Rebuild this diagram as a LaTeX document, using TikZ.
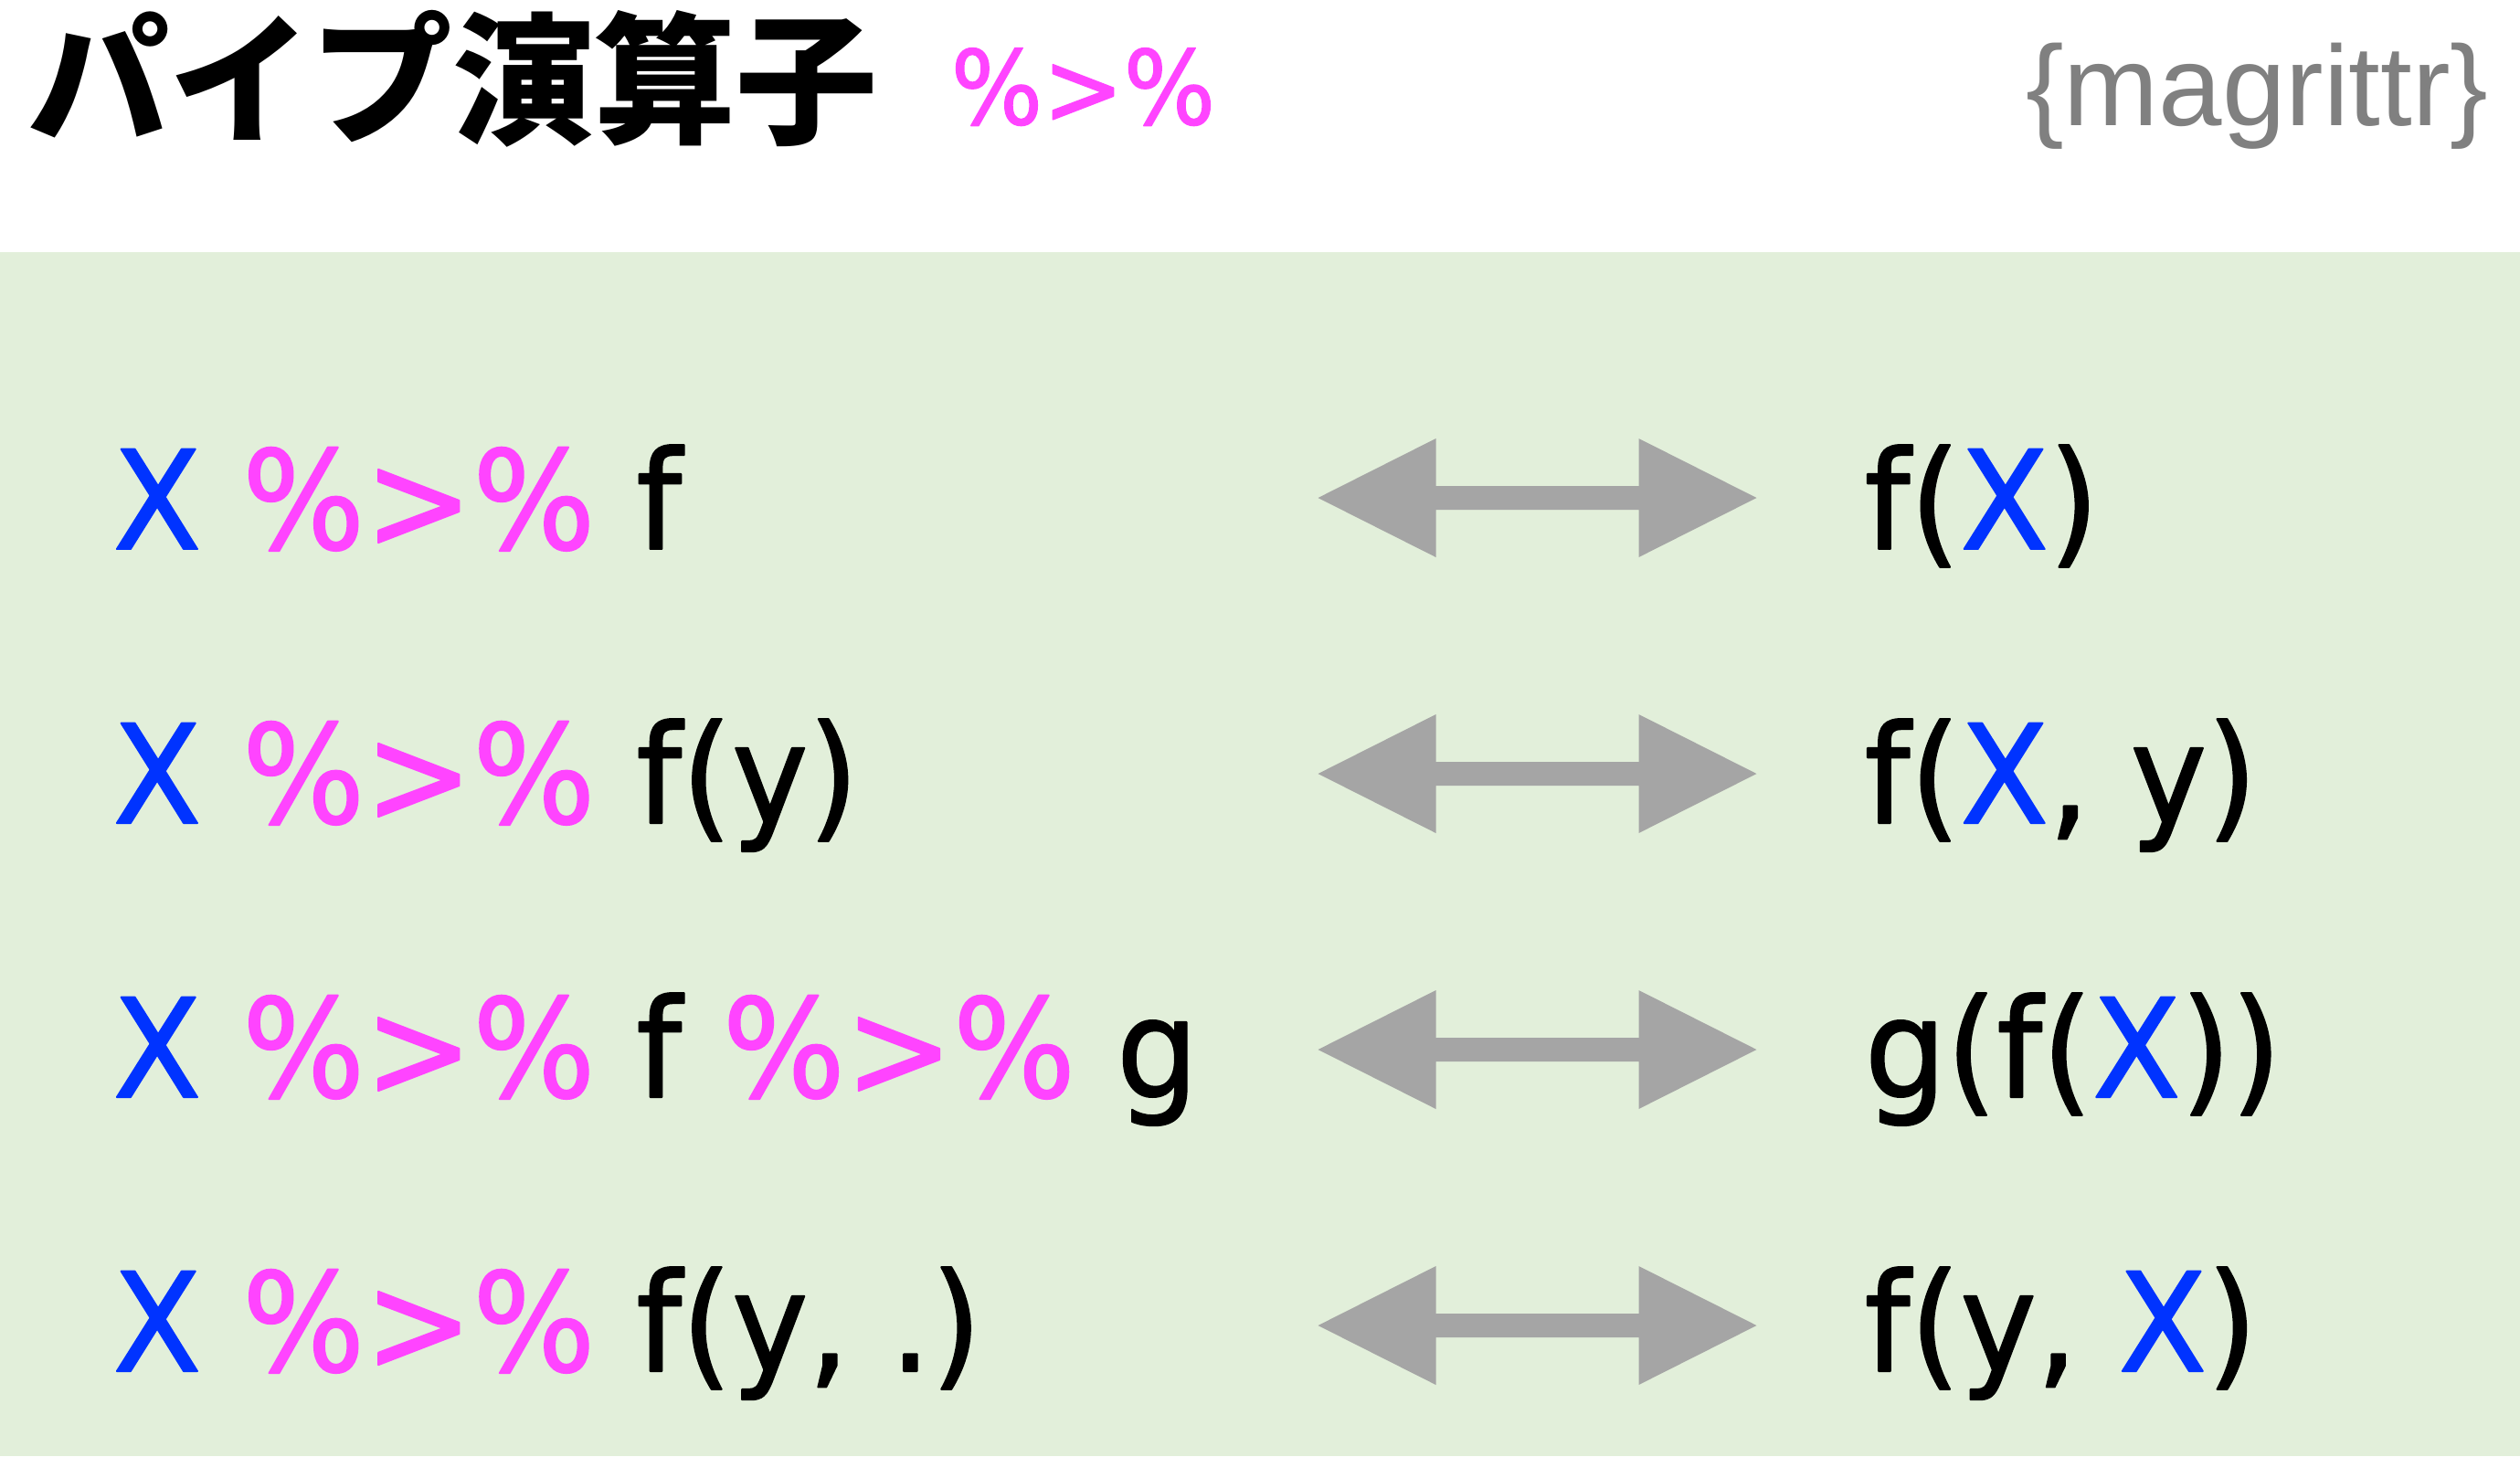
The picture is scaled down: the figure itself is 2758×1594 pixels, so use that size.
\documentclass[tikz,border=0pt]{standalone}
\usepackage{fontspec}
\setmainfont{DejaVu Sans}[FakeStretch=0.94, FakeBold=1.3]
\newfontfamily\jpfont{Noto Sans CJK JP}
\newfontfamily\pkgfont{Liberation Sans}
\definecolor{bggreen}{HTML}{E2EFDA}
\definecolor{argblue}{HTML}{0033FF}
\definecolor{pipemag}{HTML}{FF44FF}
\definecolor{pkggray}{HTML}{808080}
\definecolor{eqgray}{HTML}{A5A5A5}
\newcommand\argX{\textcolor{argblue}{X}}
\newcommand\pipeop{\textcolor{pipemag}{\%>\%}}
\begin{document}
\begin{tikzpicture}[x=0.1mm, y=-0.1mm, line join=round,
		code/.style={inner sep=0pt, anchor=base west, font=\fontsize{42.7pt}{48pt}\selectfont},
		eqarrow/.pic={\fill[eqgray] (-240,0)--(-111,-65)--(-111,-13)--(111,-13)--(111,-65)--(240,0)--(111,65)--(111,13)--(-111,13)--(-111,65)--cycle;}]
		\def\xl{123} \def\xr{2040} % left and right columns
		\useasboundingbox (0,0) rectangle (2758,1594);
		\fill[white] (0,0) rectangle (2758,276);
		\fill[bggreen] (0,276) rectangle (2758,1594);
		% header
		\node[inner sep=0pt, anchor=base west, font=\jpfont\bfseries\fontsize{44.1pt}{50pt}\selectfont] (title) at (30,145) {パイプ演算子};
		\node[inner sep=0pt, anchor=base west, font=\fontsize{32pt}{36pt}\selectfont] (titlepipe) at (1040,136) {\pipeop};
		\node[inner sep=0pt, anchor=base east, text=pkggray, font=\pkgfont\fontsize{35.5pt}{40pt}\selectfont] (pkg) at (2724,137) {\{magrittr\}};
		% rows
		\node[code] (l1) at (\xl,601) {\argX\ \pipeop\ f};
		\node[code] (l2) at (\xl,901) {\argX\ \pipeop\ f(y)};
		\node[code] (l3) at (\xl,1201) {\argX\ \pipeop\ f \pipeop\ g};
		\node[code] (l4) at (\xl,1501) {\argX\ \pipeop\ f(y, .)};
		\node[code] (r1) at (\xr,601) {f(\argX)};
		\node[code] (r2) at (\xr,901) {f(\argX, y)};
		\node[code] (r3) at (\xr,1201) {g(f(\argX))};
		\node[code] (r4) at (\xr,1501) {f(y, \argX)};
		\foreach \i in {0,...,3}
			\pic (eq\i) at (1682.5,{545+302*\i}) {eqarrow};
\end{tikzpicture}
\end{document}
